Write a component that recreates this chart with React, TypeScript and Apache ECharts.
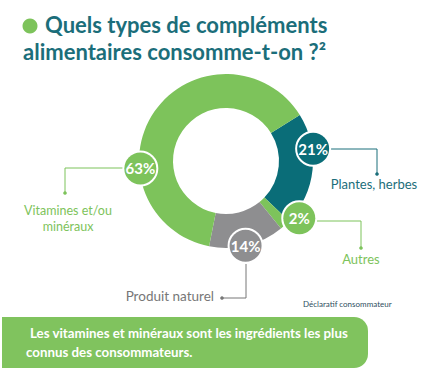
import React, { useEffect, useRef } from "react";
import * as echarts from "echarts";

const categories = ["Plantes, herbes", "Autres", "Produit naturel", "Vitamines et/ou minéraux"];
const values = [21, 2, 14, 63];
const sliceColors = ["#0a6d78", "#7dc35b", "#8e8e90", "#7dc35b"];
const vitaminesLines = ["Vitamines et/ou", "minéraux"];

const TITLE_LINE1 = "Quels types de compléments";
const TITLE_LINE2 = "alimentaires consomme-t-on ?²";
const SOURCE = "Déclaratif consommateur";
const BANNER_LINE1 = "Les vitamines et minéraux sont les ingrédients les plus";
const BANNER_LINE2 = "connus des consommateurs.";

// layout (not data)
const CX = 226;
const CY = 161;
const R_IN = 53;
const R_OUT = 87;
const bubbleAngles = [82, 128, 167, 265];
const bubbleDist = [88, 93, 87, 86];

const GREEN = "#7dc35b";
const TEAL = "#1b6e7a";
const GREY = "#777777";

export default function App() {
  const ref = useRef<HTMLDivElement>(null);
  useEffect(() => {
    if (!ref.current) return;
    const chart = echarts.init(ref.current, undefined, { renderer: "svg" });
    const bubblePos = (i: number) => {
      const a = (bubbleAngles[i] * Math.PI) / 180;
      return [CX + bubbleDist[i] * Math.sin(a), CY - bubbleDist[i] * Math.cos(a)];
    };
    const lineStyle = (c: string) => ({ stroke: c, lineWidth: 1 });
    const labelFont = (c: string) => ({ fill: c, fontSize: 13, lineHeight: 13, fontFamily: "Lato", fontWeight: 400 as any });
    const titleFont = { fill: TEAL, fontSize: 22, lineHeight: 22, fontWeight: "bold", fontFamily: "Lato", align: "left", verticalAlign: "middle" };
    const graphic: any[] = [
      { type: "circle", shape: { cx: 30, cy: 26, r: 7.5 }, style: { fill: GREEN } },
      { type: "text", style: { text: TITLE_LINE1, x: 45, y: 24.5, ...titleFont } },
      { type: "text", style: { text: TITLE_LINE2, x: 23, y: 51.5, ...titleFont } },
      // Vitamines leader
      { type: "polyline", shape: { points: [[125, 168], [65, 168], [65, 193]] }, style: lineStyle(GREEN) },
      { type: "circle", shape: { cx: 65, cy: 193, r: 1.8 }, style: { fill: GREEN } },
      { type: "text", style: { text: vitaminesLines[0], x: 68, y: 210.5, align: "center", verticalAlign: "middle", ...labelFont(GREEN), fontSize: 12.5 } },
      { type: "text", style: { text: vitaminesLines[1], x: 68, y: 226, align: "center", verticalAlign: "middle", ...labelFont(GREEN), fontSize: 12.5 } },
      // Plantes leader
      { type: "polyline", shape: { points: [[330, 149], [377, 149], [377, 174]] }, style: lineStyle(TEAL) },
      { type: "circle", shape: { cx: 377, cy: 174, r: 1.8 }, style: { fill: TEAL } },
      { type: "text", style: { text: categories[0], x: 374, y: 184, align: "center", verticalAlign: "middle", ...labelFont(TEAL) } },
      // Autres leader
      { type: "polyline", shape: { points: [[317, 221], [361, 221], [361, 248]] }, style: lineStyle(GREEN) },
      { type: "circle", shape: { cx: 361, cy: 248, r: 1.8 }, style: { fill: GREEN } },
      { type: "text", style: { text: categories[1], x: 361, y: 259, align: "center", verticalAlign: "middle", ...labelFont(GREEN) } },
      // Produit naturel leader
      { type: "polyline", shape: { points: [[246, 264], [246, 298], [222, 298]] }, style: lineStyle(GREY) },
      { type: "circle", shape: { cx: 222, cy: 298, r: 1.8 }, style: { fill: GREY } },
      { type: "text", style: { text: categories[2], x: 214, y: 296, align: "right", verticalAlign: "middle", ...labelFont(GREY), fontSize: 13.5 } },
      // source
      { type: "text", style: { text: SOURCE, x: 303, y: 304, fill: "#2e4e5e", fontSize: 8, fontFamily: "Lato", align: "left", verticalAlign: "middle" } },
      // banner
      { type: "rect", shape: { x: 2, y: 317, width: 366, height: 51, r: [0, 14, 14, 0] }, style: { fill: "#80c35e" } },
      { type: "text", style: { text: BANNER_LINE1, x: 30, y: 333, fill: "#fff", fontSize: 13.3, lineHeight: 14, fontWeight: "bold", fontFamily: "Lato", align: "left", verticalAlign: "middle" } },
      { type: "text", style: { text: BANNER_LINE2, x: 26, y: 352, fill: "#fff", fontSize: 13.3, lineHeight: 14, fontWeight: "bold", fontFamily: "Lato", align: "left", verticalAlign: "middle" } },
    ];
    chart.setOption({
      animation: false,
      backgroundColor: "#ffffff",
      graphic,
      series: [
        {
          type: "pie",
          center: [CX, CY],
          radius: [R_IN, R_OUT],
          startAngle: 32,
          clockwise: true,
          silent: true,
          emphasis: { disabled: true },
          labelLine: { show: false },
          label: {
            show: true,
            position: "inside",
            formatter: "{c}%",
            color: "#fff",
            fontFamily: "Lato",
            fontWeight: "bold",
            fontSize: 15,
            width: 32,
            height: 32,
            lineHeight: 32,
            borderColor: "#fff",
            borderWidth: 2,
            borderRadius: 17,
            align: "center",
          },
          labelLayout: (p: any) => {
            const [x, y] = bubblePos(p.dataIndex);
            return { x, y, align: "center", verticalAlign: "middle" };
          },
          data: categories.map((name, i) => ({
            name,
            value: values[i],
            itemStyle: { color: sliceColors[i] },
            label: { backgroundColor: sliceColors[i] },
          })),
        },
      ],
    });
    return () => chart.dispose();
  }, []);
  return <div ref={ref} style={{ position: "absolute", left: 0, top: 0, width: 434, height: 384 }} />;
}
